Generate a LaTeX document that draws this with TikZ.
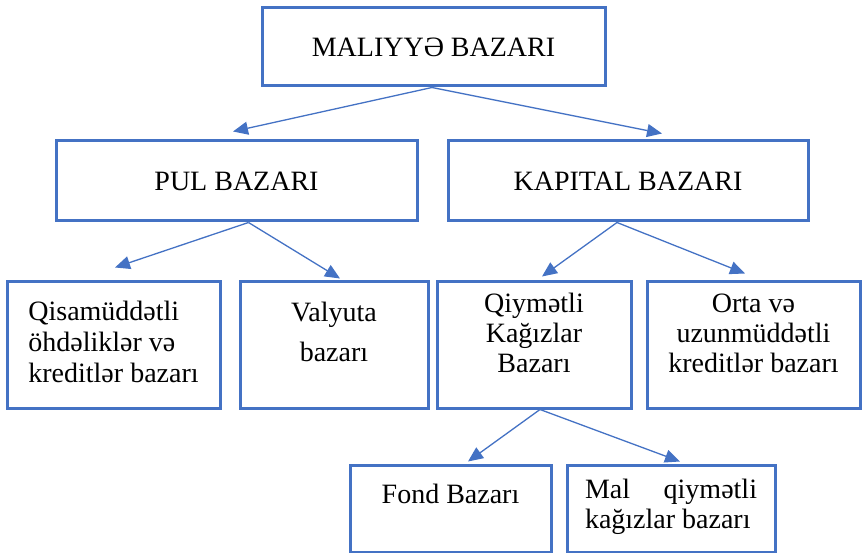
\documentclass[tikz,border=0pt]{standalone}
\usepackage{fontspec}
\setmainfont{Liberation Serif}
\usetikzlibrary{arrows.meta,positioning}
\definecolor{boxblue}{HTML}{4472C4}

\begin{document}
\begin{tikzpicture}[x=1pt, y=-1pt,
  every node/.style={font=\fontsize{28}{30}\selectfont},
  box/.style={draw=boxblue, line width=3pt, inner sep=0pt, align=center},
  link/.style={draw=boxblue, line width=1.3pt, -{Triangle[length=15pt,width=13pt]}}]
  \useasboundingbox (0,0) rectangle (862,553);

  % Top level
  \node[box, minimum width=343pt, minimum height=78pt] (maliyye) at (433.5,47) {MALIYYƏ BAZARI};

  % Second level
  \node[box, minimum width=361pt, minimum height=80pt] (pul) at (236.5,181) {PUL BAZARI};
  \node[box, minimum width=360pt, minimum height=80pt] (kapital) at (628,181) {KAPITAL BAZARI};

  % Third level (last baseline set with text height)
  \node[box, align=left, minimum width=213pt, minimum height=126pt, text height=74pt, text depth=0pt]
    (qisa) at (113.5,345) {Qisamüddətli\\[1pt]öhdəliklər və\\[1pt]kreditlər bazarı};
  \node[box, minimum width=188pt, minimum height=126pt, text height=32pt, text depth=0pt]
    (valyuta) at (334,345) {Valyuta\\[10pt]bazarı};
  \node[box, minimum width=194pt, minimum height=126pt, text height=54pt, text depth=0pt]
    (qiymetli) at (534,345) {Qiymətli\\Kağızlar\\Bazarı};
  \node[box, minimum width=213pt, minimum height=126pt, text height=54pt, text depth=0pt]
    (orta) at (753.5,345) {Orta və\\uzunmüddətli\\kreditlər bazarı};

  % Fourth level
  \node[box, minimum width=201pt, minimum height=87pt, text height=0pt, text depth=11pt]
    (fond) at (450.5,508.5) {Fond Bazarı};
  \node[box, align=left, minimum width=208pt, minimum height=87pt, text height=39pt, text depth=0pt]
    (malq) at (671,508.5) {\makebox[172pt][s]{Mal\hfill qiymətli}\\kağızlar bazarı};

  % Arrows
  \draw[link] ([xshift=-1.5pt]maliyye.south) -- ([xshift=-3.5pt,yshift=8pt]pul.north);
  \draw[link] ([xshift=-1.5pt]maliyye.south) -- ([xshift=34pt,yshift=6pt]kapital.north);
  \draw[link] ([xshift=12pt]pul.south) -- ([xshift=1.5pt,yshift=13pt]qisa.north);
  \draw[link] ([xshift=12pt]pul.south) -- ([xshift=6pt,yshift=2pt]valyuta.north);
  \draw[link] ([xshift=-11pt]kapital.south) -- ([xshift=8pt,yshift=4pt]qiymetli.north);
  \draw[link] ([xshift=-11pt]kapital.south) -- ([xshift=-8.5pt,yshift=7pt]orta.north);
  \draw[link] ([xshift=6pt]qiymetli.south) -- ([xshift=17.5pt,yshift=2pt]fond.north);
  \draw[link] ([xshift=6pt]qiymetli.south) -- ([xshift=9pt,yshift=2pt]malq.north);
\end{tikzpicture}
\end{document}
